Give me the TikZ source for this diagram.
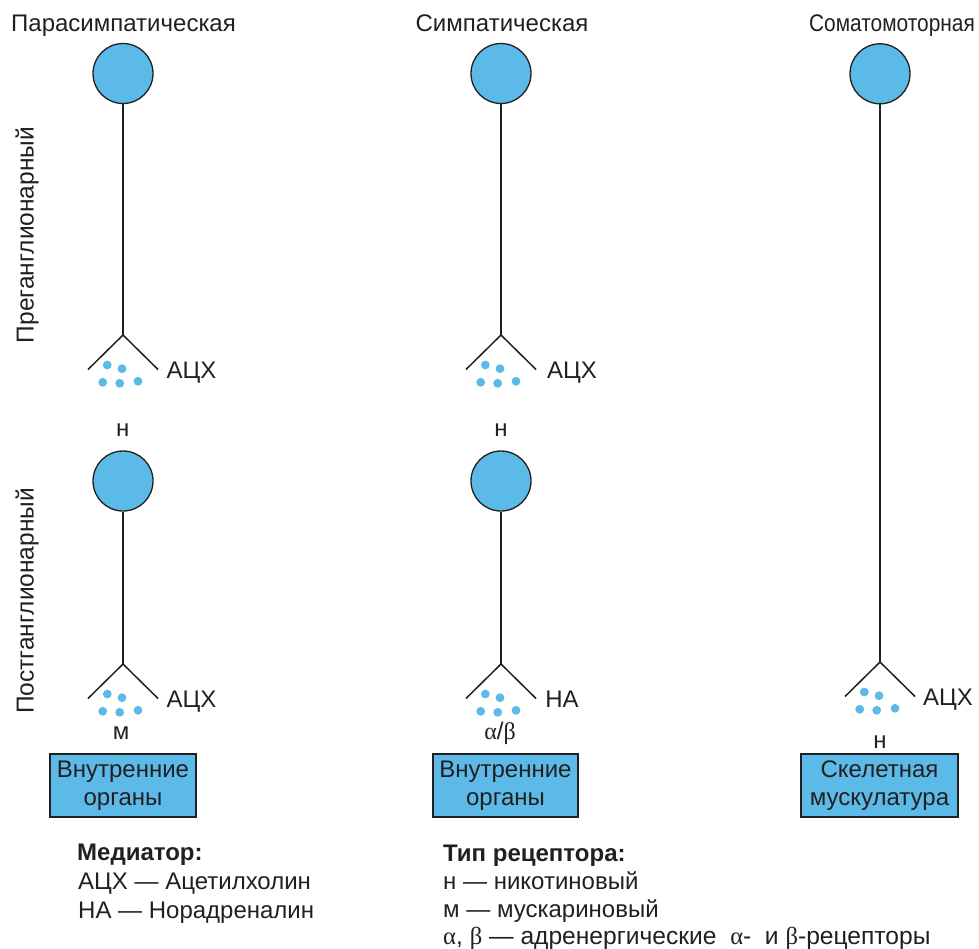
\documentclass[tikz,border=0pt]{standalone}
\usepackage{fontspec}
\setmainfont{Liberation Sans}
\newfontfamily\grk{Liberation Serif}
\definecolor{cellblue}{RGB}{91,186,231}
\definecolor{inkc}{RGB}{35,31,32}
\newcommand\myfs[1]{\fontsize{#1}{#1}\selectfont}
% terminal: #1 name, #2 x, #3 apex y
\newcommand\myterm[3]{%
  \coordinate (#1) at (#2,#3);
  \coordinate (#1l) at ([shift={(-35,34.5)}]#1);
  \coordinate (#1r) at ([shift={(35,34.5)}]#1);
  \draw[axon] (#1l) -- (#1) -- (#1r);
  \node[dot] (#1d1) at ([shift={(-15.7,30)}]#1) {};
  \node[dot] (#1d2) at ([shift={(-1,33.7)}]#1) {};
  \node[dot] (#1d3) at ([shift={(-20.3,47.3)}]#1) {};
  \node[dot] (#1d4) at ([shift={(-3.3,48.3)}]#1) {};
  \node[dot] (#1d5) at ([shift={(15,46.3)}]#1) {};
}
\begin{document}
\begin{tikzpicture}[x=1pt,y=-1pt,
  soma/.style={circle,draw=inkc,line width=1.3pt,fill=cellblue,minimum size=60pt,inner sep=0pt},
  axon/.style={line width=1.5pt,draw=inkc},
  dot/.style={circle,fill=cellblue,minimum size=8.8pt,inner sep=0pt},
  lbl/.style={font=\myfs{24},anchor=base,inner sep=0pt,text=inkc},
  organ/.style={draw=inkc,line width=1.3pt,fill=cellblue,minimum height=63pt,align=center,font=\fontsize{24}{28}\selectfont,inner sep=0pt,text=inkc},
  leg/.style={font=\myfs{24},anchor=base west,inner sep=0pt,text=inkc}]
\useasboundingbox (0,0) rectangle (979,948);

% titles
\node[lbl] (t1) at (123.5,31.7) {Парасимпатическая};
\node[lbl] (t2) at (502,31.7) {Симпатическая};
\node[lbl,anchor=base east] (t3) at (975,31.7) {\scalebox{0.87}[1]{Соматомоторная}};

% side labels
\node[lbl,rotate=90,font=\myfs{24.5}] (pre) at (33.5,235) {Преганглионарный};
\node[lbl,rotate=90,font=\myfs{24.5}] (post) at (33.5,601) {Постганглионарный};

% somata
\node[soma] (s1a) at (123,73.5) {};
\node[soma] (s1b) at (123,481) {};
\node[soma] (s2a) at (501,73.5) {};
\node[soma] (s2b) at (501,481) {};
\node[soma] (s3) at (880,73.8) {};

% terminals
\myterm{e1a}{123}{335}
\myterm{e1b}{123}{664}
\myterm{e2a}{501}{335}
\myterm{e2b}{501}{664}
\myterm{e3}{880}{662}

% axons
\draw[axon] (s1a.south) -- (e1a);
\draw[axon] (s1b.south) -- (e1b);
\draw[axon] (s2a.south) -- (e2a);
\draw[axon] (s2b.south) -- (e2b);
\draw[axon] (s3.south) -- (e3);

% mediator labels
\node[lbl] (m1a) at (191.5,378.5) {АЦХ};
\node[lbl] (m2a) at (572,378.5) {АЦХ};
\node[lbl] (m1b) at (191.5,707) {АЦХ};
\node[lbl] (m2b) at (562,707) {НА};
\node[lbl] (m3) at (948,705) {АЦХ};

% receptor labels
\node[lbl] (r1a) at (122.7,436.5) {н};
\node[lbl] (r2a) at (501,436.5) {н};
\node[lbl] (r1b) at (121,739) {м};
\node[lbl] (r2b) at (500,739) {{\grk α}/{\grk β}};
\node[lbl] (r3) at (880,748) {н};

% organs
\node[organ,minimum width=146pt] (o1) at (123,785.5) {Внутренние\\органы};
\node[organ,minimum width=145pt] (o2) at (505.5,785.5) {Внутренние\\органы};
\node[organ,minimum width=157pt] (o3) at (879.5,785.5) {Скелетная\\мускулатура};

% legend
\node[leg,font=\myfs{24}\bfseries] (l1) at (77,860) {Медиатор:};
\node[leg] (l2) at (78,889.5) {АЦХ — Ацетилхолин};
\node[leg] (l3) at (78,918.5) {НА — Норадреналин};
\node[leg,font=\myfs{24}\bfseries] (l4) at (443,861) {Тип рецептора:};
\node[leg] (l5) at (443,889) {н — никотиновый};
\node[leg] (l6) at (443,917) {м — мускариновый};
\node[leg,font=\myfs{24.6}] (l7) at (443,944) {{\grk α}, {\grk β} — адренергические\ \ {\grk α}-\ \ и {\grk β}-рецепторы};
\end{tikzpicture}
\end{document}
